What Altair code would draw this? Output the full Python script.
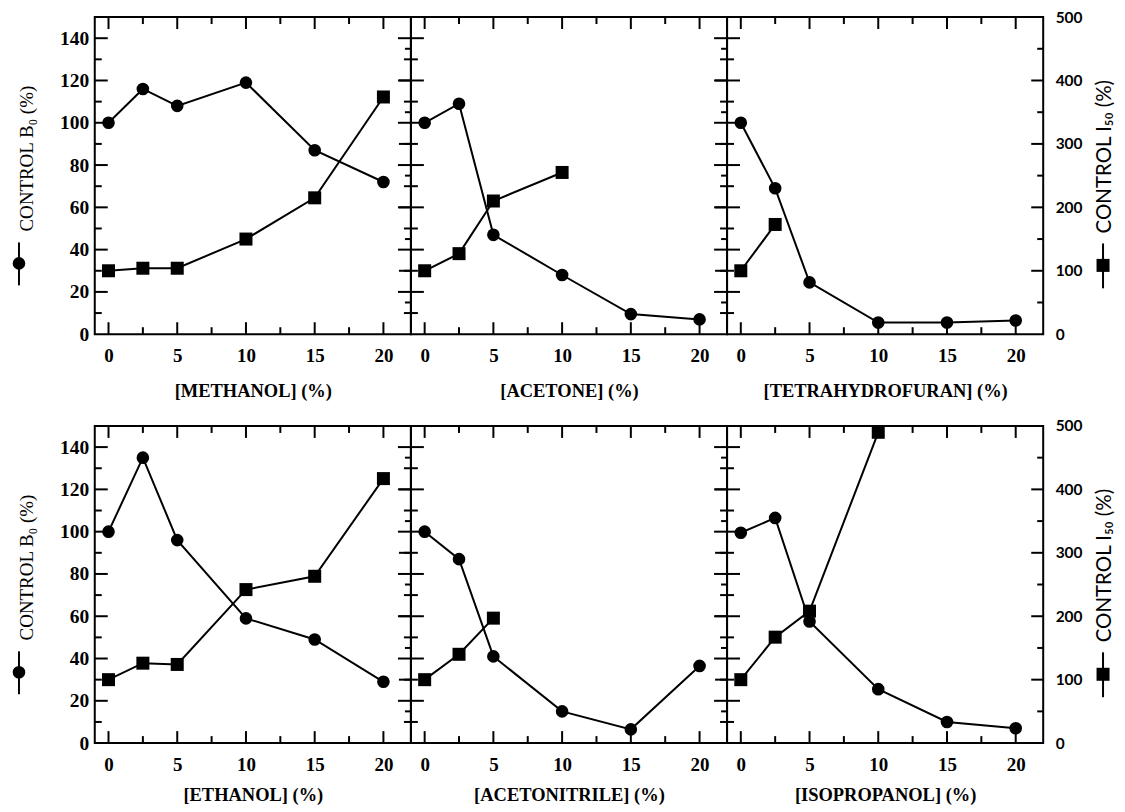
import altair as alt
import pandas as pd

# ---------------- data ----------------
X = [0, 2.5, 5, 10, 15, 20]

b0_methanol = [100, 116, 108, 119, 87, 72]
i50_methanol = [100, 104, 104, 150, 215, 374]

b0_acetone = [100, 109, 47, 28, 9.5, 7]
i50_acetone = [100, 127, 210, 255]

b0_thf = [100, 69, 24.5, 5.5, 5.5, 6.5]
i50_thf = [100, 173]

b0_ethanol = [100, 135, 96, 59, 49, 29]
i50_ethanol = [100, 126, 124, 242, 263, 417]

b0_acetonitrile = [100, 87, 41, 15, 6.5, 36.5]
i50_acetonitrile = [100, 140, 197]

b0_isopropanol = [99.5, 106.5, 57.5, 25.5, 10, 7]
i50_isopropanol = [100, 167, 208, 490]

x_titles = ["[METHANOL] (%)", "[ACETONE] (%)", "[TETRAHYDROFURAN] (%)",
            "[ETHANOL] (%)", "[ACETONITRILE] (%)", "[ISOPROPANOL] (%)"]

x_labels = [0, 5, 10, 15, 20]
x_minor = [2.5, 7.5, 12.5, 17.5]
b0_labels = [0, 20, 40, 60, 80, 100, 120, 140]
b0_major = [20, 40, 60, 80, 100, 120, 140]
b0_minor = [10, 30, 50, 70, 90, 110, 130]
i50_labels = [0, 100, 200, 300, 400, 500]
i50_major = [100, 200, 300, 400]
i50_minor = [50, 150, 250, 350, 450]

left_title = "CONTROL B₀ (%)"
right_title = "CONTROL I₅₀ (%)"

# ---------------- layout ----------------
W, H = 317, 318
SERIF = "Liberation Serif"
SANS = "Lato"

xscale = alt.Scale(domain=[-1, 22], nice=False, zero=False)
b0scale = alt.Scale(domain=[0, 150], nice=False)
i50scale = alt.Scale(domain=[0, 500], nice=False)


def rules_y(values, yenc_fn, x0, x1):
    return alt.Chart(pd.DataFrame({"v": values})).mark_rule(
        color="black", strokeWidth=2
    ).encode(y=yenc_fn(), x=alt.value(x0), x2=alt.value(x1))


def rules_x(values, xenc, y0, y1):
    return alt.Chart(pd.DataFrame({"x": values})).mark_rule(
        color="black", strokeWidth=2
    ).encode(x=xenc, y=alt.value(y0), y2=alt.value(y1))


def panel(title, b0, i50, col, row):
    xenc = alt.X(
        "x:Q", scale=xscale,
        axis=alt.Axis(values=x_labels, ticks=False, domain=False, grid=False,
                      labelPadding=12, title=title,
                      titlePadding=16 if row == 0 else 12,
                      labelFont=SERIF, labelFontSize=19, labelFontWeight="bold",
                      titleFont=SERIF, titleFontSize=18.5, titleFontWeight="bold",
                      labelColor="black", titleColor="black"),
    )
    b0df = pd.DataFrame({"x": X, "v": b0})
    i50df = pd.DataFrame({"x": X[: len(i50)], "v": i50})

    if col == 0:
        laxis = alt.Axis(orient="left", values=b0_labels, ticks=False, domain=False,
                         grid=False, labelPadding=6, title=None,
                         labelFont=SERIF, labelFontSize=19.5, labelFontWeight="bold",
                         labelColor="black")
    else:
        laxis = None
    if col == 2:
        raxis = alt.Axis(orient="right", values=i50_labels, ticks=False, domain=False,
                         grid=False, labelPadding=12, title=None,
                         labelFont=SANS, labelFontSize=15.5, labelFontWeight="bold",
                         labelColor="black")
    else:
        raxis = None

    def yb():
        return alt.Y("v:Q", scale=b0scale, axis=laxis)

    def yi():
        return alt.Y("v:Q", scale=i50scale, axis=raxis)

    b0_layers = [
        alt.Chart(b0df).mark_line(color="black", strokeWidth=2).encode(x=xenc, y=yb()),
        alt.Chart(b0df).mark_point(shape="circle", filled=True, size=160,
                                   color="black", opacity=1).encode(x=xenc, y=yb()),
        rules_y(b0_major, yb, 0, 13),
        rules_y(b0_minor, yb, 0, 7),
        rules_x(x_labels, xenc, 0, 12),
        rules_x(x_minor, xenc, 0, 7),
        rules_x(x_labels, xenc, H - 12, H),
        rules_x(x_minor, xenc, H - 7, H),
    ]
    if col < 2:
        b0_layers += [rules_y(b0_major, yb, W - 13, W),
                      rules_y(b0_minor, yb, W - 7, W)]
    if col == 0:
        b0_layers += [
            alt.Chart(pd.DataFrame({"t": [left_title]})).mark_text(
                font=SERIF, fontSize=19, angle=270, align="center",
                baseline="alphabetic", color="black"
            ).encode(text="t:N", x=alt.value(-62), y=alt.value(142)),
            alt.Chart(pd.DataFrame({"t": [0]})).mark_rule(color="black", strokeWidth=2).encode(
                x=alt.value(-76), y=alt.value(226), y2=alt.value(269)),
            alt.Chart(pd.DataFrame({"t": [0]})).mark_point(
                shape="circle", filled=True, size=160, color="black", opacity=1
            ).encode(x=alt.value(-76), y=alt.value(247)),
        ]

    i50_layers = [
        alt.Chart(i50df).mark_line(color="black", strokeWidth=2).encode(x=xenc, y=yi()),
        alt.Chart(i50df).mark_point(shape="square", filled=True, size=170,
                                    color="black", opacity=1).encode(x=xenc, y=yi()),
        rules_y(i50_major, yi, W - 12, W),
        rules_y(i50_minor, yi, W - 6, W),
    ]
    if col == 2:
        i50_layers += [
            alt.Chart(pd.DataFrame({"t": [right_title]})).mark_text(
                font=SANS, fontSize=20.5, angle=270, align="center",
                baseline="alphabetic", color="black"
            ).encode(text="t:N", x=alt.value(W + 68), y=alt.value(140)),
            alt.Chart(pd.DataFrame({"t": [0]})).mark_rule(color="black", strokeWidth=2).encode(
                x=alt.value(W + 60), y=alt.value(227), y2=alt.value(272)),
            alt.Chart(pd.DataFrame({"t": [0]})).mark_point(
                shape="square", filled=True, size=170, color="black", opacity=1
            ).encode(x=alt.value(W + 60), y=alt.value(249)),
        ]

    return alt.layer(alt.layer(*b0_layers), alt.layer(*i50_layers)).resolve_scale(
        y="independent"
    ).properties(width=W, height=H)


row1 = alt.hconcat(
    panel(x_titles[0], b0_methanol, i50_methanol, 0, 0),
    panel(x_titles[1], b0_acetone, i50_acetone, 1, 0),
    panel(x_titles[2], b0_thf, i50_thf, 2, 0),
    spacing=0, bounds="flush",
)
row2 = alt.hconcat(
    panel(x_titles[3], b0_ethanol, i50_ethanol, 0, 1),
    panel(x_titles[4], b0_acetonitrile, i50_acetonitrile, 1, 1),
    panel(x_titles[5], b0_isopropanol, i50_isopropanol, 2, 1),
    spacing=0, bounds="flush",
)

chart = alt.vconcat(row1, row2, spacing=17).properties(
    padding={"left": 3, "top": 0, "right": 0, "bottom": 0},
    background="white",
).configure_view(stroke="black", strokeWidth=2)

chart.save("out.html", embed_options={"renderer": "svg", "actions": False})
